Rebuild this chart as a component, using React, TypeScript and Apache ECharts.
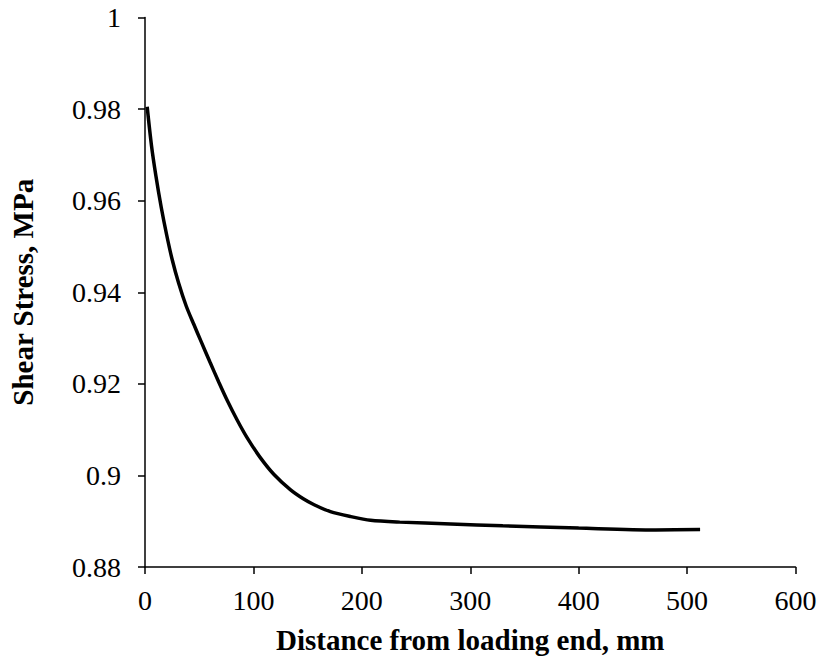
import React, { useEffect, useRef } from "react";
import * as echarts from "echarts";

const distance = [2, 6, 10, 15, 20, 25, 31, 38, 45, 52, 60, 68, 76, 85, 94, 106, 119, 134, 146, 156, 171, 190, 208, 235, 282, 330, 400, 471, 512];
const stress = [0.9805, 0.972, 0.9655, 0.9585, 0.9525, 0.9472, 0.942, 0.937, 0.933, 0.9291, 0.9247, 0.9204, 0.9163, 0.9121, 0.9083, 0.904, 0.9002, 0.8969, 0.8949, 0.8936, 0.8921, 0.891, 0.8902, 0.8898, 0.8894, 0.889, 0.8885, 0.8881, 0.8882];

const xTitle = "Distance from loading end, mm";
const yTitle = "Shear Stress, MPa";

export default function App() {
  const ref = useRef<HTMLDivElement>(null);
  useEffect(() => {
    const chart = echarts.init(ref.current!, undefined, { renderer: "svg" });
    const font = "'Liberation Serif', 'Times New Roman', serif";
    chart.setOption({
      animation: false,
      backgroundColor: "#ffffff",
      grid: { left: 144.5, right: 24.5, top: 17.5, bottom: 92 },
      xAxis: {
        type: "value",
        min: 0,
        max: 600,
        interval: 100,
        name: xTitle,
        nameLocation: "middle",
        nameGap: 58,
        nameTextStyle: { fontFamily: font, fontSize: 29, fontWeight: "bold", color: "#000" },
        axisLine: { lineStyle: { color: "#000", width: 1.5 } },
        axisTick: { show: true, length: 7, lineStyle: { color: "#000", width: 1.5 } },
        axisLabel: { fontFamily: font, fontSize: 28, color: "#000", margin: 19 },
        splitLine: { show: false },
      },
      yAxis: {
        type: "value",
        min: 0.88,
        max: 1,
        interval: 0.02,
        name: yTitle,
        nameLocation: "middle",
        nameGap: 108,
        nameTextStyle: { fontFamily: font, fontSize: 29, fontWeight: "bold", color: "#000" },
        axisLine: { show: true, lineStyle: { color: "#000", width: 1.5 } },
        axisTick: { show: true, length: 7, lineStyle: { color: "#000", width: 1.5 } },
        axisLabel: {
          fontFamily: font,
          fontSize: 28,
          color: "#000",
          margin: 24,
          formatter: (v: number) => String(Math.round(v * 100) / 100),
        },
        splitLine: { show: false },
      },
      series: [
        {
          type: "line",
          data: distance.map((d, i) => [d, stress[i]]),
          showSymbol: false,
          smooth: 0.3,
          lineStyle: { color: "#000", width: 3.5 },
        },
      ],
    });
    return () => chart.dispose();
  }, []);
  return (
    <div
      ref={ref}
      style={{ position: "fixed", left: 0, top: 0, width: 820, height: 659 }}
    />
  );
}
